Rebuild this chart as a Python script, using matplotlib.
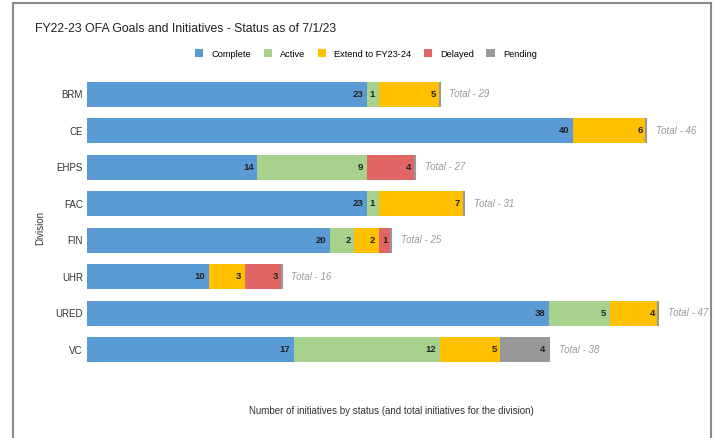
import numpy as np
import matplotlib.pyplot as plt
from matplotlib.patches import Rectangle

plt.rcParams['font.family'] = ['Liberation Sans', 'DejaVu Sans']

divisions = ["BRM", "CE", "EHPS", "FAC", "FIN", "UHR", "URED", "VC"]
statuses = ["Complete", "Active", "Extend to FY23-24", "Delayed", "Pending"]
complete = [23, 40, 14, 23, 20, 10, 38, 17]
active = [1, 0, 9, 1, 2, 0, 5, 12]
extend = [5, 6, 0, 7, 2, 3, 4, 5]
delayed = [0, 0, 4, 0, 1, 3, 0, 0]
pending = [0, 0, 0, 0, 0, 0, 0, 4]
colors = ["#5b9bd5", "#a9d18e", "#ffc000", "#e06666", "#999999"]

W, H = 723, 438
fig = plt.figure(figsize=(W / 100, H / 100), dpi=100)
# outer frame
fig.patches.append(Rectangle((13 / W, -0.05), (711 - 13) / W, 1.05 - 3 / H,
                             transform=fig.transFigure, fill=False,
                             edgecolor="#8a8a8a", linewidth=1.5))

ax = fig.add_axes([87 / W, 1 - 368 / H, (690 - 87) / W, (368 - 76) / H])
y = np.arange(len(divisions))
series = [complete, active, extend, delayed, pending]
left = np.zeros(len(divisions))
for name, vals, col in zip(statuses, series, colors):
    vals = np.array(vals, dtype=float)
    ax.barh(y, vals, left=left, height=0.68, color=col, label=name,
            edgecolor="none")
    for yi, (l, v) in enumerate(zip(left, vals)):
        if v > 0:
            ax.text(l + v - 0.3, yi, f"{int(v)}", ha="right", va="center",
                    fontsize=6.8, fontweight="bold", color="#222222")
    left += vals

# thin gray end marker of each bar
for yi, tot in enumerate(left):
    ax.plot([tot, tot], [yi - 0.34, yi + 0.34], color="#999999", lw=1.5,
            solid_capstyle="butt")
    ax.text(tot + 0.8, yi, f"Total - {int(tot)}", ha="left", va="center",
            fontsize=7, fontstyle="italic", color="#9a9a9a")

ax.set_xlim(0, 49.6)
ax.set_ylim(len(divisions) - 0.5, -0.5)
ax.set_yticks(y)
ax.set_yticklabels(divisions, fontsize=7, color="#333333")
ax.tick_params(axis="y", length=0, pad=3)
ax.set_xticks([])
for s in ax.spines.values():
    s.set_visible(False)

fig.text(35 / W, 1 - 29 / H, "FY22-23 OFA Goals and Initiatives - Status as of 7/1/23",
         fontsize=8.8, color="#222222", va="center", ha="left")
fig.text(40 / W, 1 - 228 / H, "Division", rotation=90, fontsize=7,
         color="#333333", ha="center", va="center")
fig.text(391 / W, 1 - 411 / H,
         "Number of initiatives by status (and total initiatives for the division)",
         fontsize=7, color="#333333", ha="center", va="center")

handles, labels = ax.get_legend_handles_labels()
fig.legend(handles, labels, loc="center", bbox_to_anchor=(366 / W, 1 - 54 / H),
           ncol=5, frameon=False, fontsize=6.7, handlelength=0.9,
           handleheight=0.9, columnspacing=1.3, handletextpad=0.9)

fig.savefig("out.png", dpi=100)
